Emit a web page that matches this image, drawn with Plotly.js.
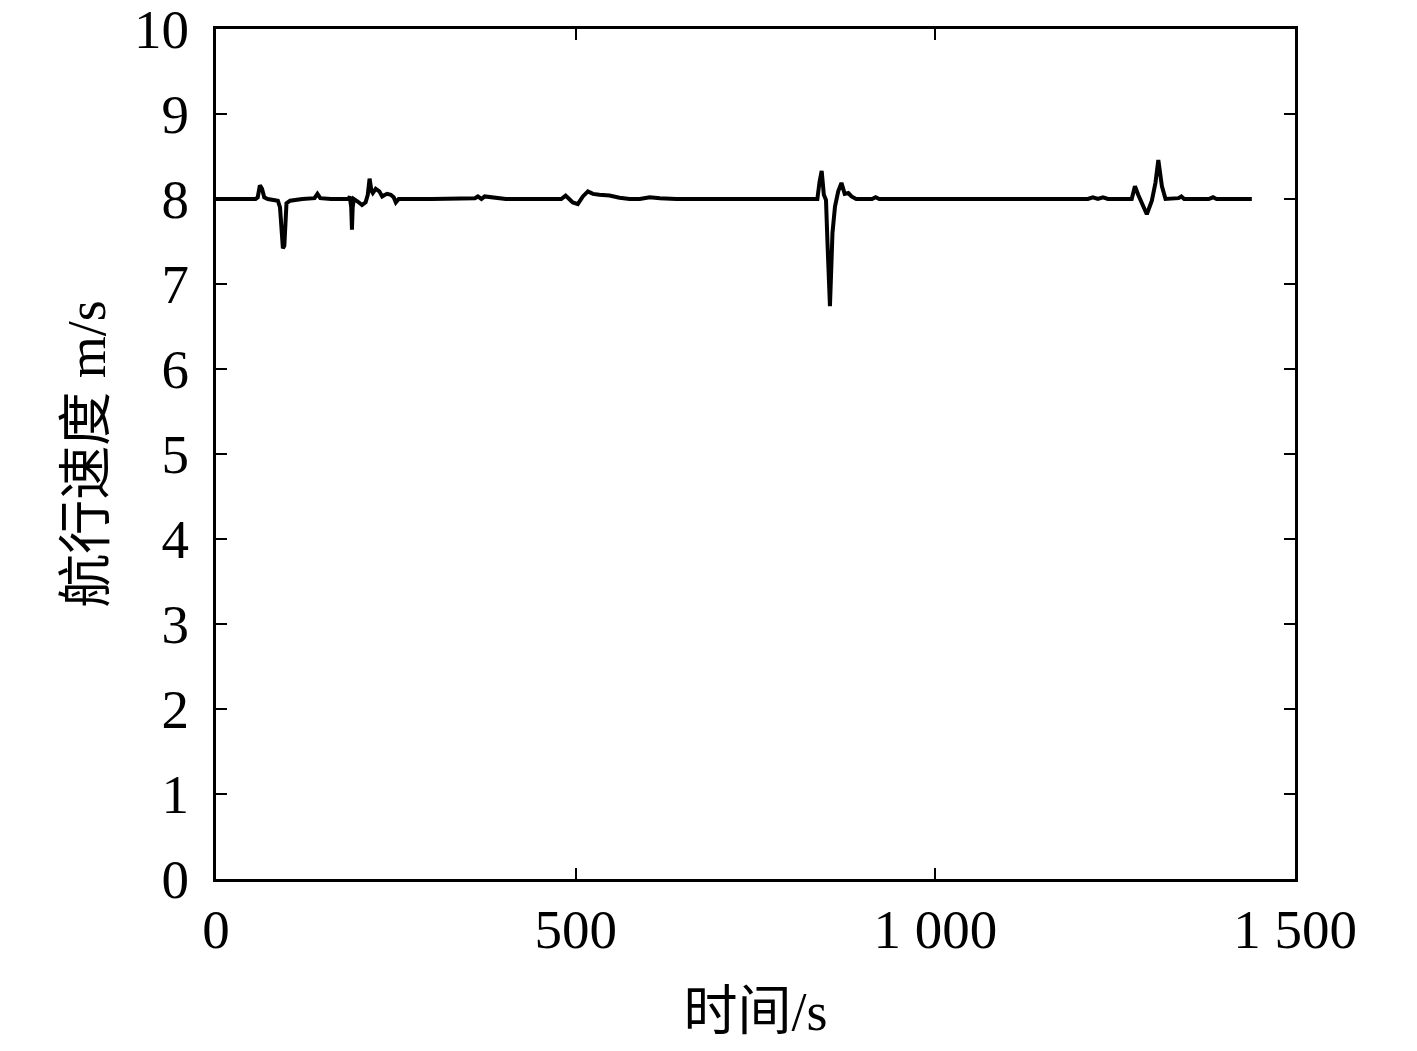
<!DOCTYPE html>
<html>
<head>
<meta charset="utf-8">
<script src="https://cdn.plot.ly/plotly-3.0.1.min.js"></script>
<style>html,body{margin:0;padding:0;background:#fff;}#chart{width:1417px;height:1051px;}</style>
</head>
<body>
<div id="chart"></div>
<script>
const timeS = [0, 55, 58, 61, 64, 67, 72, 80, 86, 89, 91, 93, 95, 96.5, 98, 103, 110, 120, 137, 141, 145, 160,
  184, 186, 188, 189, 190, 191.5, 197, 203, 208, 211, 213.5, 216, 218, 222, 227, 231, 235, 238, 243, 247, 250, 254,
  300, 355, 360, 364, 369, 373.5, 390, 403, 480, 486, 491, 496, 503, 510, 517, 524, 533, 547, 561, 575, 589, 603, 617, 640,
  700, 800, 836, 839, 842, 845, 848, 850, 852, 853.5, 855, 857, 860.5, 865, 869.5, 874, 879, 883.5, 890, 912, 917, 922,
  1000, 1100, 1185, 1191, 1198, 1205, 1212, 1219, 1226, 1233, 1240, 1273, 1277.5, 1282, 1287, 1294, 1301, 1306, 1310,
  1315, 1320, 1329, 1338, 1342, 1346, 1380, 1386, 1391, 1440];
const speed = [8.0, 8.0, 8.02, 8.16, 8.12, 8.02, 8.0, 7.99, 7.98, 7.9, 7.6, 7.42, 7.45, 7.8, 7.95, 7.98, 7.99, 8.0, 8.01, 8.06, 8.01, 8.0,
  8.0, 8.03, 7.9, 7.64, 7.9, 8.0, 7.97, 7.93, 7.96, 8.05, 8.24, 8.1, 8.07, 8.12, 8.09, 8.03, 8.05, 8.06, 8.05, 8.02, 7.96, 8.0,
  8.0, 8.0, 8.01, 8.03, 8.0, 8.03, 8.01, 8.0, 8.0, 8.04, 8.0, 7.96, 7.94, 8.03, 8.09, 8.06, 8.05, 8.04, 8.015, 8.0, 8.0, 8.02, 8.01, 8.0,
  8.0, 8.0, 8.0, 8.2, 8.33, 8.05, 7.99, 7.5, 6.9, 6.74, 7.1, 7.6, 7.91, 8.09, 8.19, 8.06, 8.07, 8.03, 8.0, 8.0, 8.02, 8.0,
  8.0, 8.0, 8.0, 8.01, 8.0, 8.01, 8.0, 8.02, 8.0, 8.02, 8.0, 8.0, 8.15, 8.05, 7.96, 7.82, 7.98, 8.19, 8.46,
  8.15, 8.0, 8.0, 8.01, 8.03, 8.0, 8.0, 8.02, 8.0, 8.0];
const xTickVals = [0, 500, 1000, 1500];
const xTickText = ['0', '500', '1 000', '1 500'];
const yTickVals = [0, 1, 2, 3, 4, 5, 6, 7, 8, 9, 10];
const xTitle = '时间/s';
const yTitle = '航行速度 m/s';

const tickFont = {family: '"Liberation Serif", "Times New Roman", serif', size: 55, color: '#000'};
const titleFont = {family: '"Liberation Serif", "Noto Sans CJK SC", serif', size: 54, color: '#000'};

const trace = {
  x: timeS, y: speed, type: 'scatter', mode: 'lines',
  line: {color: '#000', width: 4}, hoverinfo: 'skip'
};
const layout = {
  width: 1417, height: 1051,
  paper_bgcolor: '#fff', plot_bgcolor: '#fff',
  margin: {l: 216, r: 122, t: 29, b: 172},
  showlegend: false,
  xaxis: {
    range: [0, 1500], tickvals: xTickVals, ticktext: xTickText,
    ticks: 'inside', ticklen: 11, tickwidth: 2, tickcolor: '#000',
    showline: true, linecolor: '#000', linewidth: 3, mirror: 'ticks',
    showgrid: false, zeroline: false, tickfont: tickFont, ticklabelstandoff: 0,
    ticklabeloverflow: 'allow',
    title: {text: xTitle, font: titleFont, standoff: 34}
  },
  yaxis: {
    range: [0, 10], tickvals: yTickVals,
    ticks: 'inside', ticklen: 11, tickwidth: 2, tickcolor: '#000',
    showline: true, linecolor: '#000', linewidth: 3, mirror: 'ticks',
    showgrid: false, zeroline: false, tickfont: tickFont, ticklabelstandoff: 13,
    ticklabeloverflow: 'allow',
    title: {text: yTitle, font: titleFont, standoff: 12}
  }
};
Plotly.newPlot('chart', [trace], layout, {staticPlot: true});
</script>
</body>
</html>
